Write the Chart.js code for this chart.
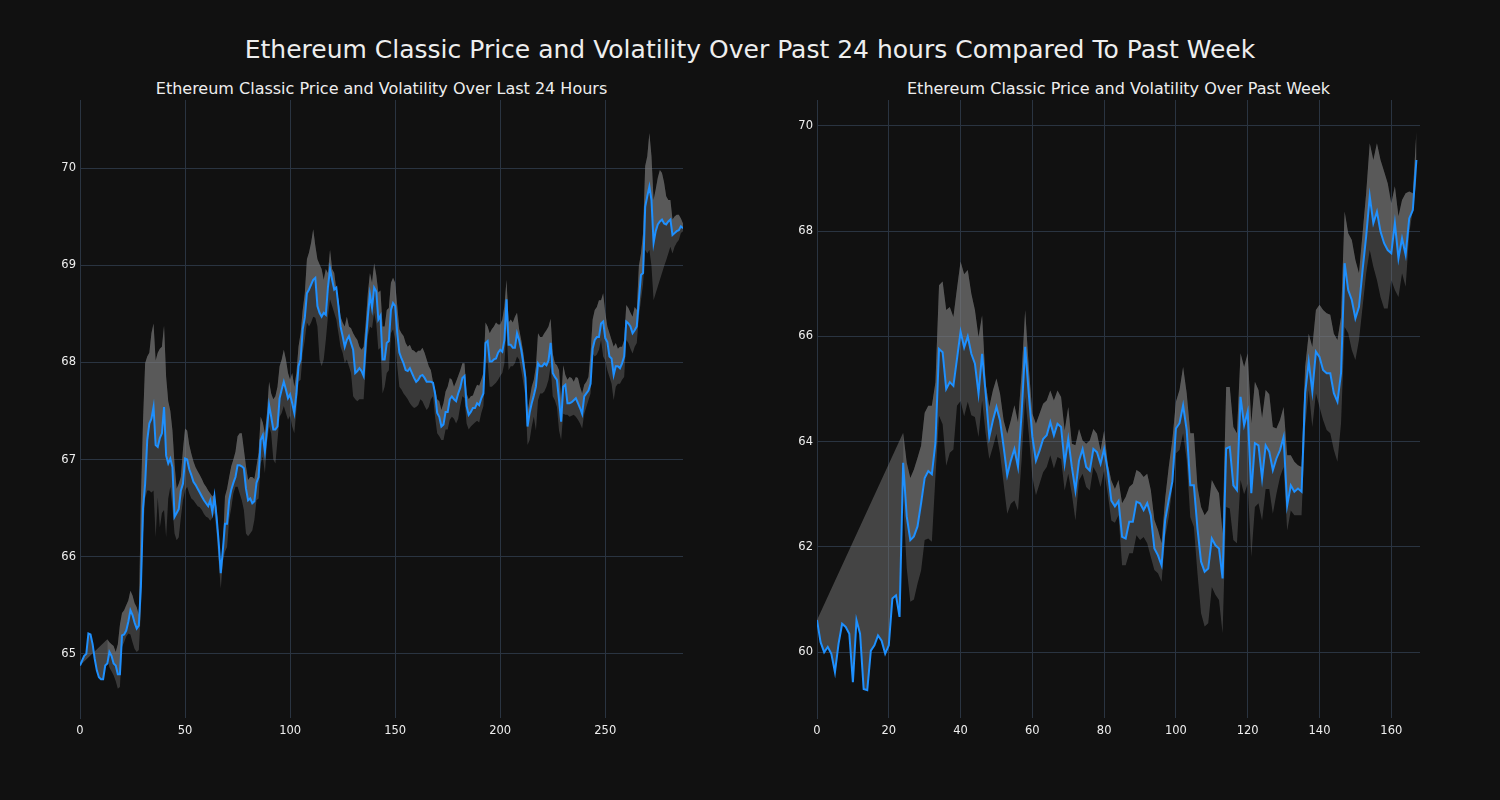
<!DOCTYPE html>
<html>
<head>
<meta charset="utf-8">
<script src="https://cdn.jsdelivr.net/npm/chart.js@4.4.1/dist/chart.umd.min.js"></script>
<style>
  html, body { margin: 0; padding: 0; background: #111111; }
  body { width: 1500px; height: 800px; position: relative; overflow: hidden;
         font-family: "DejaVu Sans", sans-serif; color: #eeeeee; }
  .title { position: absolute; left: 0; width: 1500px; top: 36px; text-align: center;
           font-size: 25px; line-height: 28px; }
  .sub { position: absolute; top: 79px; text-align: center; font-size: 16px; line-height: 20px; }
  canvas { position: absolute; top: 0; }
</style>
</head>
<body>
<div class="title">Ethereum Classic Price and Volatility Over Past 24 hours Compared To Past Week</div>
<div class="sub" style="left:80px;width:603px;">Ethereum Classic Price and Volatility Over Last 24 Hours</div>
<div class="sub" style="left:817px;width:603px;">Ethereum Classic Price and Volatility Over Past Week</div>
<canvas id="dayChart" width="750" height="800" style="left:0"></canvas>
<canvas id="weekChart" width="750" height="800" style="left:750px"></canvas>
<script>
// ── Last 24 hours (5-minute steps, 288 points) ──────────
const dayPrice = [
  64.88,64.93,64.98,65.0,65.21,65.2,65.1,64.95,64.83,64.76,
  64.74,64.74,64.88,64.9,65.02,64.98,64.9,64.88,64.79,64.79,
  65.19,65.2,65.24,65.33,65.45,65.4,65.32,65.26,65.29,65.7,
  66.5,66.75,67.2,67.37,67.42,67.54,67.15,67.13,67.22,67.27,
  67.54,67.04,66.96,67.01,66.92,66.41,66.45,66.49,66.68,66.75,
  67.01,67.0,66.9,66.84,66.77,66.74,66.7,66.66,66.62,66.58,
  66.55,66.52,66.58,66.46,66.62,66.41,66.15,65.83,66.07,66.34,
  66.34,66.58,66.69,66.76,66.82,66.94,66.94,66.93,66.91,66.7,
  66.58,66.6,66.55,66.57,66.76,66.82,67.2,67.25,67.08,67.31,
  67.56,67.44,67.31,67.31,67.34,67.63,67.72,67.8,67.72,67.63,
  67.67,67.58,67.48,67.68,67.96,68.03,68.34,68.46,68.71,68.75,
  68.8,68.85,68.87,68.58,68.51,68.47,68.51,68.49,68.77,68.96,
  68.85,68.75,68.77,68.58,68.37,68.27,68.16,68.23,68.27,68.2,
  68.13,67.89,67.91,67.94,67.91,67.86,68.2,68.47,68.7,68.56,
  68.77,68.73,68.44,68.48,68.03,68.03,68.2,68.22,68.54,68.61,
  68.58,68.3,68.1,68.04,67.99,67.92,67.91,67.94,67.89,67.84,
  67.8,67.82,67.86,67.87,67.84,67.8,67.8,67.8,67.79,67.68,
  67.48,67.44,67.34,67.36,67.49,67.49,67.62,67.65,67.62,67.6,
  67.68,67.74,67.84,67.86,67.55,67.46,67.49,67.53,67.53,67.58,
  67.56,67.63,67.68,68.2,68.22,68.01,68.01,68.03,68.04,68.1,
  68.13,68.11,68.23,68.65,68.18,68.18,68.15,68.15,68.3,68.23,
  68.13,67.99,67.84,67.34,67.48,67.58,67.66,67.75,67.99,67.96,
  67.96,67.99,67.97,68.02,68.2,67.89,67.85,67.82,67.61,67.39,
  67.75,67.77,67.58,67.58,67.59,67.61,67.63,67.58,67.53,67.47,
  67.65,67.68,67.71,67.78,68.14,68.23,68.26,68.26,68.4,68.42,
  68.25,68.21,68.06,68.04,67.87,67.96,67.96,67.94,67.99,68.06,
  68.42,68.4,68.37,68.3,68.33,68.37,68.64,68.9,68.92,69.6,
  69.71,69.81,69.67,69.23,69.35,69.42,69.45,69.47,69.43,69.42,
  69.45,69.47,69.31,69.33,69.35,69.36,69.4,69.38
];
const dayUpper = [
  64.88,null,null,null,null,null,null,null,null,null,
  null,null,null,65.15,65.12,65.1,65.08,65.02,65.1,65.3,
  65.42,65.45,65.5,65.55,65.65,65.6,65.52,65.48,65.4,66.6,
  67.4,67.99,68.06,68.1,68.3,68.4,68.02,68.1,68.14,68.16,
  68.38,67.85,67.6,67.5,67.3,66.95,66.7,66.75,66.82,67.1,
  67.32,67.3,67.15,67.06,66.98,66.92,66.88,66.84,66.8,66.75,
  66.72,66.68,66.65,66.62,66.64,66.5,66.2,65.85,66.1,66.62,
  66.7,66.82,66.93,67.0,67.08,67.24,67.27,67.27,67.1,66.93,
  66.79,66.82,66.82,66.8,66.93,67.07,67.44,67.38,67.27,67.48,
  67.8,67.68,67.62,67.65,67.75,67.96,68.03,68.13,68.03,67.89,
  67.82,67.89,67.75,67.89,68.16,68.3,68.54,68.71,69.06,69.13,
  69.23,69.37,69.2,69.06,69.01,68.96,68.85,68.96,68.92,69.16,
  68.96,68.92,68.75,68.65,68.47,68.41,68.37,68.47,68.37,68.35,
  68.3,68.26,68.23,68.16,68.13,68.16,68.41,68.71,68.92,68.82,
  69.02,68.9,68.72,68.74,68.37,68.37,68.54,68.56,68.82,68.87,
  68.82,68.58,68.34,68.3,68.27,68.2,68.16,68.18,68.13,68.12,
  68.1,68.12,68.12,68.15,68.1,68.03,67.96,67.92,67.8,67.72,
  67.62,67.6,67.51,67.58,67.7,67.75,67.84,67.82,67.75,67.8,
  67.86,67.92,67.99,67.99,67.68,67.62,67.65,67.66,67.72,67.77,
  67.76,67.82,67.89,68.41,68.37,68.3,68.34,68.37,68.41,68.39,
  68.39,68.44,68.58,68.85,68.41,68.44,68.41,68.47,68.51,68.34,
  68.23,68.1,67.92,67.48,67.62,67.75,67.82,67.96,68.3,68.26,
  68.26,68.3,68.33,68.37,68.45,68.09,67.99,67.97,67.92,67.61,
  67.97,67.87,67.82,67.85,67.84,67.8,67.85,67.84,67.75,67.68,
  67.77,67.8,67.85,68.09,68.44,68.54,68.57,68.64,68.64,68.71,
  68.51,68.37,68.3,68.23,68.16,68.2,68.14,68.16,68.16,68.23,
  68.59,68.56,68.51,68.47,68.57,68.54,68.99,69.12,69.33,70.02,
  70.12,70.36,70.12,69.67,69.78,69.9,69.98,69.95,69.85,69.71,
  69.67,69.67,69.47,69.5,69.52,69.52,69.48,69.43
];
const dayLower = [
  null,null,null,null,null,null,null,null,null,null,
  null,null,null,64.95,64.86,64.82,64.78,64.72,64.64,64.66,
  65.07,65.12,65.18,65.21,65.2,65.12,65.05,65.02,65.04,65.45,
  66.24,66.6,66.68,66.68,66.66,66.68,66.2,66.61,66.3,66.45,
  66.48,66.2,66.6,66.72,66.5,66.24,66.17,66.2,66.4,66.58,
  66.68,66.72,66.65,66.6,66.58,66.55,66.52,66.51,66.48,66.44,
  66.41,66.4,66.37,66.4,66.45,66.25,65.95,65.67,65.95,66.05,
  66.1,66.38,66.5,66.65,66.72,66.72,66.65,66.58,66.48,66.24,
  66.21,66.24,66.27,66.38,66.58,66.6,66.96,67.03,66.86,67.17,
  67.34,67.27,67.0,66.96,67.2,67.44,67.48,67.55,67.48,67.41,
  67.45,67.34,67.27,67.51,67.8,67.82,68.1,68.23,68.41,68.37,
  68.41,68.47,68.46,68.37,68.03,67.96,68.03,68.23,68.47,68.65,
  68.58,68.51,68.44,68.3,68.16,68.1,67.99,68.03,67.96,67.89,
  67.65,67.62,67.6,67.62,67.62,67.62,67.96,68.27,68.37,68.35,
  68.51,68.4,68.13,68.15,67.68,67.75,67.89,67.92,68.3,68.34,
  68.23,67.96,67.75,67.72,67.68,67.65,67.62,67.58,67.55,67.53,
  67.54,67.56,67.62,67.6,67.55,67.51,67.54,67.62,67.65,67.44,
  67.27,67.24,67.2,67.2,67.31,67.31,67.41,67.44,67.42,67.37,
  67.42,67.55,67.65,67.63,67.37,67.31,67.34,67.36,67.38,67.4,
  67.38,67.48,67.55,67.99,68.01,67.75,67.75,67.77,67.79,67.82,
  67.86,67.89,67.99,68.34,67.92,67.96,67.96,67.99,68.06,68.03,
  67.92,67.79,67.65,67.15,67.2,67.34,67.44,67.3,67.61,67.68,
  67.68,67.7,67.75,67.82,67.96,67.65,67.61,67.54,67.3,67.2,
  67.47,67.46,67.46,67.44,67.45,67.46,67.44,67.41,67.37,67.32,
  67.47,67.54,67.61,67.68,68.09,68.06,68.08,68.13,68.23,68.06,
  68.02,67.92,67.85,67.78,67.61,67.75,67.78,67.78,67.82,67.85,
  68.23,68.2,68.14,68.09,68.16,68.2,68.47,68.64,68.81,69.16,
  69.12,69.16,68.99,68.64,68.71,68.78,68.85,68.92,68.99,69.05,
  69.12,69.19,69.12,69.19,69.23,69.26,69.33,69.35
];

// ── Past week (hourly, 168 points) ──────────────────────
const weekPrice = [
  60.61,60.19,60.0,60.1,59.97,59.62,60.16,60.54,60.48,60.35,
  59.43,60.61,60.35,59.3,59.28,60.03,60.13,60.32,60.22,59.97,
  60.13,61.02,61.08,60.67,63.6,62.58,62.13,62.2,62.39,62.83,
  63.31,63.44,63.38,63.98,65.76,65.7,65.0,65.13,65.06,65.57,
  66.09,65.79,66.0,65.67,65.48,64.91,65.67,64.91,64.09,64.4,
  64.66,64.4,63.9,63.36,63.64,63.86,63.52,64.53,65.8,64.91,
  64.09,63.64,63.83,64.05,64.12,64.37,64.12,64.34,64.28,63.58,
  64.05,63.52,63.07,63.64,63.86,63.52,63.45,63.86,63.8,63.58,
  63.86,63.45,62.88,62.77,62.87,62.19,62.16,62.48,62.48,62.86,
  62.83,62.7,62.83,62.6,61.97,61.84,61.65,62.51,62.89,63.24,
  64.25,64.35,64.69,64.22,63.17,63.17,62.35,61.72,61.53,61.59,
  62.16,62.03,61.97,61.4,63.87,63.9,63.17,63.08,64.85,64.31,
  64.57,63.02,63.97,63.93,63.3,63.93,63.81,63.46,63.68,63.84,
  64.09,62.79,63.17,63.05,63.11,63.05,64.92,65.52,64.95,65.71,
  65.61,65.36,65.3,65.3,64.92,64.76,65.3,67.39,66.88,66.69,
  66.34,66.56,67.26,67.9,68.66,68.15,68.37,67.99,67.77,67.64,
  67.58,68.15,67.48,67.86,67.55,68.24,68.4,69.35
];
const weekUpper = [
  60.61,null,null,null,null,null,null,null,null,null,
  null,null,null,null,null,null,null,null,null,null,
  null,null,null,null,64.17,63.6,63.31,63.47,63.69,63.92,
  64.55,64.68,64.68,65.13,66.97,67.04,66.5,66.56,66.37,66.91,
  67.42,67.18,67.26,66.81,66.5,65.99,66.4,65.1,64.66,64.97,
  65.2,64.91,64.4,64.15,64.4,64.69,64.37,65.29,66.5,65.42,
  64.53,64.34,64.53,64.72,64.78,64.97,64.78,64.97,64.85,64.21,
  64.66,63.96,63.93,64.24,64.02,63.96,64.02,64.24,64.15,63.83,
  64.21,63.58,63.26,63.1,63.27,62.83,62.95,63.14,63.2,63.46,
  63.42,63.33,63.39,63.08,62.51,62.32,62.07,62.92,63.52,64.03,
  64.76,64.98,65.42,64.92,64.16,64.16,63.14,62.76,62.6,62.7,
  63.27,63.14,63.02,62.26,65.04,65.04,64.28,64.16,65.68,65.42,
  65.68,64.35,65.14,64.98,64.45,64.98,64.9,64.28,64.25,64.41,
  64.66,63.74,63.74,63.62,63.55,63.52,65.42,66.05,65.8,66.5,
  66.6,66.5,66.44,66.41,66.05,65.93,66.37,68.37,67.96,67.83,
  67.45,67.2,67.96,68.72,69.67,69.35,69.67,69.35,69.13,68.91,
  68.53,68.85,68.28,68.59,68.72,68.75,68.72,69.9
];
const weekLower = [
  null,null,null,null,null,null,null,null,null,null,
  null,null,null,null,null,null,null,null,null,null,
  null,null,null,null,62.9,61.6,60.96,61.0,61.3,61.55,
  62.13,62.16,62.1,63.34,64.49,64.33,63.54,63.79,63.85,64.68,
  64.77,64.48,64.76,64.5,64.47,64.09,64.78,64.15,63.67,63.9,
  64.15,63.77,63.2,62.63,62.82,62.88,62.69,63.64,64.85,64.15,
  63.33,62.98,63.2,63.42,63.52,63.74,63.49,63.71,63.67,63.07,
  63.39,63.01,62.5,63.26,63.39,63.14,63.07,63.52,63.39,63.14,
  63.45,63.01,62.5,62.46,62.6,61.65,61.65,61.88,61.88,62.22,
  62.13,62.19,62.07,61.81,61.56,61.5,61.34,62.19,62.57,63.14,
  63.78,63.84,64.16,63.65,62.57,62.38,61.5,60.74,60.49,60.55,
  61.24,61.09,60.99,60.36,62.76,62.73,62.13,62.07,63.27,63.0,
  63.2,61.81,62.76,62.83,62.5,63.1,63.1,62.63,63.01,63.33,
  63.52,62.31,62.69,62.6,62.6,62.6,64.28,64.98,64.28,64.92,
  64.66,64.41,64.22,64.16,63.84,63.62,64.35,66.18,66.06,65.74,
  65.55,65.93,66.56,67.2,67.64,67.32,67.07,66.75,66.53,66.53,
  67.07,66.88,66.75,67.2,66.94,67.96,68.4,68.97
];

// ── Styling ─────────────────────────────────────────────
const gridColor = "#2a3441";
const tickColor = "#eeeeee";
const lineColor = "#1e90ff";

const toPoints = arr => arr.map((v, i) => ({ x: i, y: v }));

function drawPanel(canvasId, price, upper, lower, opts) {
  const ctx = document.getElementById(canvasId).getContext("2d");

  new Chart(ctx, {
    type: "line",
    data: {
      datasets: [
        {
          data: toPoints(price),
          borderColor: lineColor,
          borderWidth: 2,
          pointRadius: 0,
          fill: false
        },
        {
          data: toPoints(upper),
          borderColor: "transparent",
          borderWidth: 0,
          pointRadius: 0,
          spanGaps: true,
          backgroundColor: "rgba(128,128,128,0.46)",
          fill: { target: 0 }
        },
        {
          data: toPoints(lower),
          borderColor: "transparent",
          borderWidth: 0,
          pointRadius: 0,
          backgroundColor: "rgba(128,128,128,0.37)",
          fill: { target: 1 }
        }
      ]
    },
    options: {
      responsive: false,
      animation:  false,
      devicePixelRatio: 1,
      layout: { padding: { top: 100, right: opts.padRight, left: 0, bottom: 0 } },
      plugins: {
        legend:  { display: false },
        tooltip: { enabled: false }
      },
      scales: {
        x: {
          type: "linear",
          min: 0,
          max: opts.xMax,
          afterFit: s => { s.height = 82; },
          ticks:  { stepSize: opts.xStep, includeBounds: false, color: tickColor,
                    font: { family: "DejaVu Sans", size: 11.5 }, padding: 6, maxRotation: 0 },
          grid:   { color: gridColor, drawTicks: false },
          border: { display: false }
        },
        y: {
          min: opts.yMin,
          max: opts.yMax,
          afterFit: s => { s.width = opts.axisWidth; },
          ticks:  { stepSize: opts.yStep, includeBounds: false, color: tickColor,
                    font: { family: "DejaVu Sans", size: 11.5 }, padding: 4 },
          grid:   { color: gridColor, drawTicks: false },
          border: { display: true, color: gridColor }
        }
      }
    }
  });
}

drawPanel("dayChart", dayPrice, dayUpper, dayLower,
  { xMax: 287, xStep: 50, yMin: 64.34, yMax: 70.70, yStep: 1, axisWidth: 80, padRight: 67 });

drawPanel("weekChart", weekPrice, weekUpper, weekLower,
  { xMax: 168, xStep: 20, yMin: 58.75, yMax: 70.49, yStep: 2, axisWidth: 67, padRight: 80 });
</script>
</body>
</html>
